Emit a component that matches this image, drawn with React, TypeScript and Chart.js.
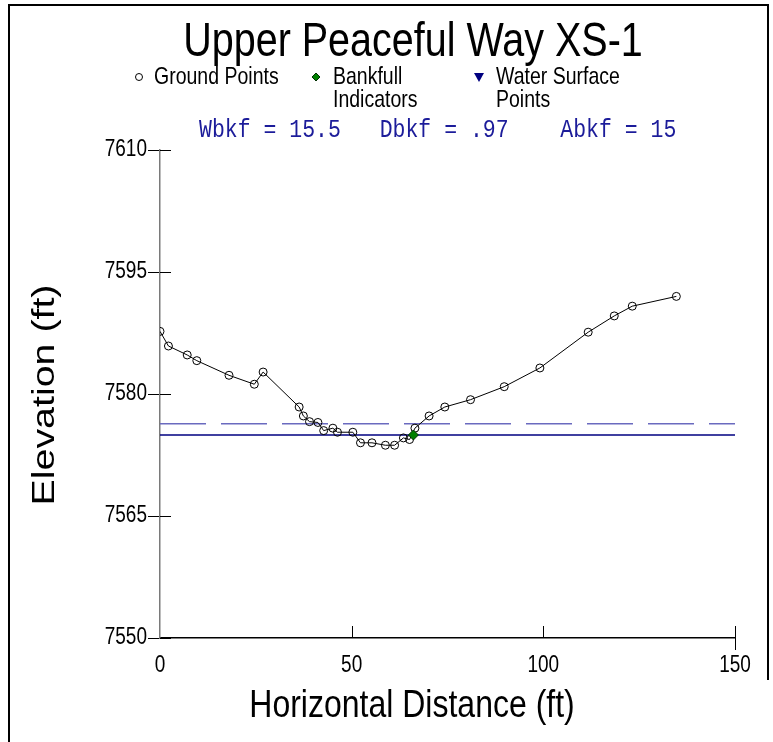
import React, { useEffect, useRef } from "react";
import { Chart, registerables } from "chart.js";

Chart.register(...registerables);

const TITLE = "Upper Peaceful Way XS-1";
const X_TITLE = "Horizontal Distance (ft)";
const Y_TITLE = "Elevation (ft)";
const LEGEND_LABELS = ["Ground Points", "Bankfull", "Indicators", "Water Surface", "Points"];
const STATS_TEXT = "Wbkf = 15.5   Dbkf = .97    Abkf = 15";

const groundX = [0, 2.2, 7.1, 9.6, 18.0, 24.6, 26.9, 36.3, 37.4, 39.0, 41.2, 42.7, 45.1, 46.3, 50.3, 52.3, 55.3, 58.8, 61.2, 63.5, 65.1, 66.5, 70.2, 74.3, 81.0, 89.8, 99.1, 111.7, 118.5, 123.2, 134.7];
const groundY = [7587.7, 7585.9, 7584.8, 7584.1, 7582.3, 7581.2, 7582.7, 7578.4, 7577.3, 7576.6, 7576.5, 7575.5, 7575.8, 7575.3, 7575.3, 7574.0, 7574.0, 7573.7, 7573.7, 7574.6, 7574.4, 7575.8, 7577.3, 7578.4, 7579.3, 7580.9, 7583.2, 7587.6, 7589.6, 7590.8, 7592.0];
const bankfullX = [66.1];
const bankfullY = [7574.96];
const waterSurfaceElev = 7574.95;
const bankfullElev = 7576.35;
const xRange = [0, 150];
const yRange = [7550, 7610];
const xStep = 50;
const yStep = 15;

const SANS = "'Liberation Sans', Arial, sans-serif";
const MONO = "'Liberation Mono', 'Courier New', monospace";
const K = 1.23; // vertical stretch of the original's lettering

function stretchedText(ctx: any, text: string, x: number, y: number) {
  ctx.save();
  ctx.translate(x, y);
  ctx.scale(1, K);
  ctx.fillText(text, 0, 0);
  ctx.restore();
}

const overlay = {
  id: "overlay",
  afterDraw(chart: any) {
    const ctx = chart.ctx;
    const xs = chart.scales.x;
    const ys = chart.scales.y;
    const area = chart.chartArea;
    ctx.save();
    // inward tick marks
    ctx.strokeStyle = "#000";
    ctx.lineWidth = 1;
    ys.ticks.forEach((t: any) => {
      const py = Math.round(ys.getPixelForValue(t.value)) + 0.5;
      ctx.beginPath();
      ctx.moveTo(area.left, py);
      ctx.lineTo(area.left + 11, py);
      ctx.stroke();
    });
    xs.ticks.forEach((t: any, i: number) => {
      const px = Math.round(xs.getPixelForValue(t.value)) + 0.5;
      if (i === 0) return;
      ctx.beginPath();
      ctx.moveTo(px, area.bottom - 12);
      ctx.lineTo(px, area.bottom + (i === xs.ticks.length - 1 ? 12 : 0));
      ctx.stroke();
    });

    // tick labels
    ctx.fillStyle = "#000";
    ctx.font = `19px ${SANS}`;
    ctx.textAlign = "right";
    ctx.textBaseline = "middle";
    ys.ticks.forEach((t: any) => {
      stretchedText(ctx, String(t.value), area.left - 13, ys.getPixelForValue(t.value));
    });
    ctx.textAlign = "center";
    ctx.textBaseline = "top";
    xs.ticks.forEach((t: any) => {
      stretchedText(ctx, String(t.value), xs.getPixelForValue(t.value), area.bottom + 16);
    });

    // frame
    ctx.strokeStyle = "#000";
    ctx.lineWidth = 2;
    ctx.beginPath();
    ctx.moveTo(9, 742);
    ctx.lineTo(9, 5);
    ctx.lineTo(768, 5);
    ctx.lineTo(768, 680);
    ctx.stroke();

    // title
    ctx.textAlign = "center";
    ctx.textBaseline = "alphabetic";
    ctx.font = `39.5px ${SANS}`;
    stretchedText(ctx, TITLE, 413, 56);

    // axis titles
    ctx.font = `32px ${SANS}`;
    stretchedText(ctx, X_TITLE, 412, 717);
    ctx.save();
    ctx.translate(54, 395);
    ctx.rotate(-Math.PI / 2);
    ctx.scale(K, 1);
    ctx.fillText(Y_TITLE, 0, 0);
    ctx.restore();

    // legend
    ctx.textAlign = "left";
    ctx.textBaseline = "middle";
    ctx.font = `19.5px ${SANS}`;
    const r1 = 77;
    const r2 = 100;
    ctx.lineWidth = 1;
    ctx.strokeStyle = "#000";
    ctx.beginPath();
    ctx.arc(139, r1, 3.5, 0, Math.PI * 2);
    ctx.stroke();
    stretchedText(ctx, LEGEND_LABELS[0], 154, r1);
    ctx.fillStyle = "#008000";
    ctx.strokeStyle = "#003000";
    ctx.beginPath();
    ctx.moveTo(316, r1 - 4);
    ctx.lineTo(320, r1);
    ctx.lineTo(316, r1 + 4);
    ctx.lineTo(312, r1);
    ctx.closePath();
    ctx.fill();
    ctx.stroke();
    ctx.fillStyle = "#000";
    stretchedText(ctx, LEGEND_LABELS[1], 333, r1);
    stretchedText(ctx, LEGEND_LABELS[2], 333, r2);
    ctx.fillStyle = "#000080";
    ctx.beginPath();
    ctx.moveTo(474, r1 - 4);
    ctx.lineTo(484, r1 - 4);
    ctx.lineTo(479, r1 + 5);
    ctx.closePath();
    ctx.fill();
    ctx.fillStyle = "#000";
    stretchedText(ctx, LEGEND_LABELS[3], 496, r1);
    stretchedText(ctx, LEGEND_LABELS[4], 496, r2);

    // stats text
    ctx.fillStyle = "#1c1c9a";
    ctx.font = `21.5px ${MONO}`;
    stretchedText(ctx, STATS_TEXT, 199, 130);

    ctx.restore();
  },
};

export default function App() {
  const ref = useRef<HTMLCanvasElement>(null);
  useEffect(() => {
    if (!ref.current) return;
    const ground = groundX.map((x, i) => ({ x, y: groundY[i] }));
    const bankfull = bankfullX.map((x, i) => ({ x, y: bankfullY[i] }));
    const chart = new Chart(ref.current, {
      type: "scatter",
      data: {
        datasets: [
          {
            label: "Ground Points",
            data: ground,
            showLine: true,
            borderColor: "#000",
            borderWidth: 1,
            pointStyle: "circle",
            pointRadius: 4,
            pointBorderColor: "#000",
            pointBorderWidth: 1,
            pointBackgroundColor: "rgba(0,0,0,0)",
            order: 1,
          },
          {
            label: "Bankfull Indicators",
            data: bankfull,
            pointStyle: "rectRot",
            pointRadius: 5,
            pointBackgroundColor: "#008000",
            pointBorderColor: "#003000",
            pointBorderWidth: 1,
            order: 0,
          },
          {
            label: "Water Surface",
            data: [
              { x: xRange[0], y: waterSurfaceElev },
              { x: xRange[1], y: waterSurfaceElev },
            ],
            showLine: true,
            borderColor: "#000080",
            borderWidth: 1.5,
            pointRadius: 0,
            order: 3,
          },
          {
            label: "Bankfull",
            data: [
              { x: xRange[0], y: bankfullElev },
              { x: xRange[1], y: bankfullElev },
            ],
            showLine: true,
            borderColor: "#6a6abf",
            borderWidth: 1.5,
            borderDash: [46, 15],
            pointRadius: 0,
            order: 4,
          },
        ],
      },
      options: {
        animation: false,
        responsive: true,
        maintainAspectRatio: false,
        layout: { padding: { top: 150, right: 38, left: 0, bottom: 0 } },
        plugins: { legend: { display: false }, title: { display: false }, tooltip: { enabled: false } },
        scales: {
          x: {
            type: "linear",
            min: xRange[0],
            max: xRange[1],
            afterFit: (s: any) => {
              s.height = 104;
            },
            ticks: { stepSize: xStep, display: false },
            grid: { drawOnChartArea: false, drawTicks: false },
            border: { color: "#000", width: 1.5 },
          },
          y: {
            type: "linear",
            min: yRange[0],
            max: yRange[1],
            afterFit: (s: any) => {
              s.width = 160;
            },
            ticks: { stepSize: yStep, display: false },
            grid: { drawOnChartArea: false, drawTicks: true, tickLength: 12, color: "#000" },
            border: { color: "#7a7a7a", width: 1.5 },
          },
        },
      },
      plugins: [overlay],
    });
    return () => chart.destroy();
  }, []);
  return (
    <div style={{ position: "fixed", left: 0, top: 0, width: 773, height: 742, background: "#fff" }}>
      <canvas ref={ref} />
    </div>
  );
}
